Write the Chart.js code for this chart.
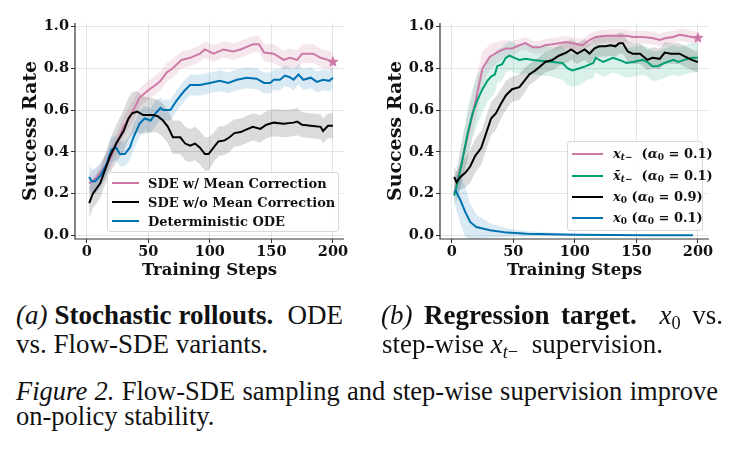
<!DOCTYPE html>
<html>
<head>
<meta charset="utf-8">
<script src="https://cdn.jsdelivr.net/npm/chart.js@4.4.1/dist/chart.umd.min.js"></script>
<style>
  body { margin: 0; width: 736px; height: 458px; background: #fff; position: relative; overflow: hidden; }
  canvas { position: absolute; top: 0; }
  .legend { position: absolute; box-sizing: border-box; background: rgba(255,255,255,0.85);
    border: 1px solid #d9d9d9; border-radius: 3px; font-family: "DejaVu Serif", serif; font-weight: bold; font-size: 13px; color: #111; }
  .legend .row { position: relative; white-space: nowrap; }
  .legend .hl { position: absolute; height: 2px; top: 50%; margin-top: -1px; }
  .legend .lt { position: absolute; top: 50%; transform: translateY(-50%); }
  .legend sub { font-size: 9px; vertical-align: -2px; }
  .cap { position: absolute; font-family: "Liberation Serif", "Times New Roman", serif; line-height: 1; color: #111;
    transform: scaleY(1.05); transform-origin: 0 0; }
  .just { text-align: justify; text-align-last: justify; }
  .cap sub { font-size: 0.68em; vertical-align: -0.25em; }
</style>
</head>
<body>
<canvas id="chartA" width="366" height="290" style="left:0"></canvas>
<canvas id="chartB" width="366" height="290" style="left:365px"></canvas>
<div class="legend" id="legA" style="left:107px;top:172px;width:232px;height:60px"></div>
<div class="legend" id="legB" style="left:567px;top:141px;width:136px;height:90px"></div>

<div class="cap just" style="left:16px;top:301px;width:327px;font-size:27px"><i>(a)</i> <b>Stochastic rollouts.</b>&nbsp; ODE</div>
<div class="cap" style="left:16px;top:330px;font-size:27px">vs. Flow-SDE variants.</div>
<div class="cap just" style="left:381px;top:301px;width:342px;font-size:27px"><i>(b)</i> <b>Regression target.</b>&nbsp; <i>x</i><sub>0</sub> vs.</div>
<div class="cap" style="left:382px;top:330px;font-size:27px">step-wise <i>x</i><sub><i>t</i>−</sub>&nbsp; supervision.</div>
<div class="cap just" style="left:16px;top:377px;width:702px;font-size:26.5px"><i>Figure 2.</i> Flow-SDE sampling and step-wise supervision improve</div>
<div class="cap" style="left:16px;top:402px;font-size:26.5px">on-policy stability.</div>

<script>
const xTicks = [0, 50, 100, 150, 200];
const yTicks = [0, 0.2, 0.4, 0.6, 0.8, 1.0];

// (a) stochastic rollouts
const aLabels = ["SDE w/ Mean Correction", "SDE w/o Mean Correction", "Deterministic ODE"];
const aColors = ["#cc79a7", "#000000", "#0072b2"];

const aPinkSteps = [2, 5, 10, 15, 20, 25, 30, 35, 38, 43, 51, 56, 60, 65, 70, 77, 84, 92, 96, 103, 111, 119, 125, 129, 135, 140, 144, 152, 160, 165, 171, 175, 184, 190, 196, 200];
const aPinkMean = [0.25, 0.26, 0.29, 0.33, 0.38, 0.45, 0.52, 0.57, 0.60, 0.66, 0.70, 0.72, 0.74, 0.78, 0.80, 0.84, 0.85, 0.87, 0.89, 0.87, 0.89, 0.88, 0.89, 0.90, 0.915, 0.915, 0.875, 0.87, 0.84, 0.85, 0.84, 0.87, 0.87, 0.85, 0.84, 0.83];
const aPinkSpread = [0.05, 0.05, 0.05, 0.05, 0.05, 0.05, 0.05, 0.05, 0.05, 0.045, 0.045, 0.045, 0.045, 0.045, 0.045, 0.04, 0.04, 0.04, 0.04, 0.04, 0.04, 0.04, 0.04, 0.04, 0.04, 0.04, 0.04, 0.045, 0.045, 0.045, 0.045, 0.045, 0.045, 0.045, 0.045, 0.045];

const aBlackSteps = [2, 5, 11, 14, 19, 24, 30, 34, 37, 41, 46, 54, 58, 62, 66, 70, 76, 80, 84, 88, 92, 96, 99, 103, 107, 112, 116, 120, 125, 129, 135, 141, 146, 152, 160, 168, 171, 175, 182, 190, 192, 196, 200];
const aBlackMean = [0.155, 0.20, 0.25, 0.30, 0.38, 0.44, 0.50, 0.56, 0.585, 0.593, 0.576, 0.576, 0.57, 0.55, 0.52, 0.47, 0.47, 0.44, 0.43, 0.44, 0.42, 0.39, 0.39, 0.42, 0.45, 0.455, 0.47, 0.49, 0.495, 0.505, 0.52, 0.51, 0.53, 0.54, 0.535, 0.54, 0.545, 0.53, 0.525, 0.52, 0.50, 0.525, 0.525];
const aBlackSpread = [0.07, 0.07, 0.07, 0.07, 0.08, 0.09, 0.1, 0.1, 0.1, 0.1, 0.09, 0.08, 0.08, 0.08, 0.08, 0.08, 0.08, 0.08, 0.08, 0.08, 0.08, 0.08, 0.08, 0.07, 0.07, 0.07, 0.07, 0.065, 0.065, 0.065, 0.065, 0.065, 0.065, 0.065, 0.065, 0.065, 0.065, 0.06, 0.06, 0.06, 0.06, 0.06, 0.06];

const aBlueSteps = [2, 4, 7, 11, 16, 20, 24, 27, 31, 35, 38, 43, 47, 52, 56, 60, 62, 68, 73, 79, 84, 92, 100, 108, 115, 122, 130, 138, 144, 149, 152, 157, 161, 165, 168, 172, 176, 182, 187, 192, 197, 200];
const aBlueMean = [0.28, 0.26, 0.26, 0.285, 0.34, 0.41, 0.42, 0.39, 0.39, 0.42, 0.47, 0.535, 0.56, 0.55, 0.585, 0.61, 0.60, 0.60, 0.645, 0.69, 0.72, 0.72, 0.73, 0.74, 0.73, 0.745, 0.755, 0.75, 0.73, 0.73, 0.745, 0.745, 0.765, 0.757, 0.745, 0.77, 0.745, 0.755, 0.735, 0.745, 0.74, 0.755];
const aBlueSpread = [0.06, 0.06, 0.06, 0.06, 0.06, 0.06, 0.06, 0.06, 0.06, 0.06, 0.06, 0.06, 0.06, 0.06, 0.06, 0.05, 0.05, 0.05, 0.05, 0.05, 0.05, 0.05, 0.05, 0.05, 0.05, 0.05, 0.05, 0.05, 0.05, 0.05, 0.05, 0.05, 0.05, 0.05, 0.05, 0.05, 0.05, 0.05, 0.05, 0.05, 0.05, 0.05];

// (b) regression target
const bLabels = ["<i>x</i><sub><i>t</i>−</sub>&nbsp; (<i>α</i><sub>0</sub> = 0.1)", "<i>x̄</i><sub><i>t</i>−</sub>&nbsp; (<i>α</i><sub>0</sub> = 0.1)", "<i>x</i><sub>0</sub> (<i>α</i><sub>0</sub> = 0.9)", "<i>x</i><sub>0</sub> (<i>α</i><sub>0</sub> = 0.1)"];
const bColors = ["#cc79a7", "#009e73", "#000000", "#0072b2"];

const bPinkSteps = [2, 5, 10, 15, 20, 25, 31, 38, 44, 49, 55, 60, 66, 71, 76, 82, 87, 93, 98, 106, 112, 117, 125, 133, 142, 147, 155, 163, 169, 174, 180, 185, 190, 195, 200];
const bPinkMean = [0.20, 0.27, 0.40, 0.53, 0.66, 0.80, 0.855, 0.88, 0.895, 0.895, 0.91, 0.92, 0.90, 0.90, 0.91, 0.915, 0.92, 0.925, 0.92, 0.91, 0.935, 0.95, 0.955, 0.955, 0.955, 0.95, 0.95, 0.945, 0.935, 0.945, 0.95, 0.96, 0.955, 0.95, 0.945];
const bPinkSpread = [0.06, 0.08, 0.1, 0.1, 0.1, 0.08, 0.06, 0.05, 0.04, 0.035, 0.03, 0.03, 0.03, 0.03, 0.03, 0.03, 0.03, 0.03, 0.03, 0.03, 0.03, 0.03, 0.03, 0.03, 0.03, 0.03, 0.03, 0.03, 0.03, 0.03, 0.03, 0.03, 0.03, 0.03, 0.03];

const bGreenSteps = [2, 5, 9, 13, 17, 21, 25, 29, 32, 35, 37, 41, 44, 47, 51, 55, 60, 66, 74, 82, 90, 94, 98, 104, 109, 115, 117, 123, 131, 136, 142, 147, 155, 159, 163, 167, 173, 180, 184, 189, 195, 200];
const bGreenMean = [0.19, 0.26, 0.37, 0.49, 0.585, 0.65, 0.70, 0.74, 0.76, 0.77, 0.81, 0.82, 0.85, 0.86, 0.85, 0.84, 0.845, 0.84, 0.835, 0.83, 0.825, 0.80, 0.79, 0.80, 0.81, 0.825, 0.85, 0.83, 0.85, 0.84, 0.825, 0.83, 0.84, 0.83, 0.81, 0.81, 0.825, 0.84, 0.83, 0.84, 0.85, 0.85];
const bGreenSpread = [0.06, 0.08, 0.1, 0.12, 0.12, 0.12, 0.11, 0.1, 0.1, 0.09, 0.08, 0.08, 0.07, 0.07, 0.07, 0.07, 0.07, 0.07, 0.07, 0.07, 0.08, 0.08, 0.08, 0.08, 0.07, 0.07, 0.07, 0.07, 0.07, 0.07, 0.07, 0.07, 0.07, 0.07, 0.07, 0.07, 0.07, 0.07, 0.07, 0.07, 0.07, 0.07];

const bBlackSteps = [2, 4, 7, 11, 15, 19, 24, 28, 32, 36, 40, 44, 49, 55, 59, 63, 68, 72, 76, 82, 87, 93, 97, 102, 108, 112, 116, 120, 125, 129, 133, 136, 139, 143, 147, 153, 159, 163, 169, 173, 178, 185, 190, 195, 200];
const bBlackMean = [0.28, 0.255, 0.28, 0.30, 0.33, 0.38, 0.42, 0.49, 0.56, 0.585, 0.63, 0.67, 0.70, 0.71, 0.74, 0.77, 0.79, 0.81, 0.83, 0.84, 0.86, 0.875, 0.89, 0.87, 0.89, 0.87, 0.895, 0.905, 0.905, 0.91, 0.905, 0.92, 0.92, 0.88, 0.87, 0.87, 0.84, 0.85, 0.845, 0.875, 0.87, 0.87, 0.855, 0.84, 0.83];
const bBlackSpread = [0.05, 0.05, 0.06, 0.07, 0.08, 0.08, 0.08, 0.08, 0.08, 0.08, 0.07, 0.07, 0.06, 0.06, 0.06, 0.05, 0.05, 0.05, 0.05, 0.05, 0.05, 0.05, 0.05, 0.05, 0.05, 0.05, 0.05, 0.05, 0.05, 0.05, 0.05, 0.05, 0.05, 0.05, 0.05, 0.05, 0.05, 0.05, 0.05, 0.05, 0.05, 0.05, 0.05, 0.05, 0.05];

const bBlueSteps = [3, 7, 11, 15, 20, 31, 45, 61, 80, 100, 130, 160, 196];
const bBlueMean = [0.217, 0.17, 0.113, 0.065, 0.041, 0.025, 0.014, 0.009, 0.006, 0.004, 0.003, 0.002, 0.002];
const bBlueSpread = [0.08, 0.11, 0.12, 0.09, 0.06, 0.035, 0.02, 0.012, 0.008, 0.005, 0.003, 0.002, 0.002];

function hexA(hex, a) {
  const n = parseInt(hex.slice(1), 16);
  return "rgba(" + (n >> 16) + "," + ((n >> 8) & 255) + "," + (n & 255) + "," + a + ")";
}

function makeStar(r, color) {
  const c = document.createElement("canvas");
  c.width = c.height = 2 * r + 2;
  const g = c.getContext("2d");
  g.beginPath();
  for (let i = 0; i < 10; i++) {
    const rr = i % 2 ? r * 0.45 : r;
    const ang = -Math.PI / 2 + i * Math.PI / 5;
    g.lineTo(r + 1 + rr * Math.cos(ang), r + 1 + rr * Math.sin(ang));
  }
  g.closePath();
  g.fillStyle = color;
  g.fill();
  return c;
}

// band (lower, upper) + mean line for one series
function series(steps, mean, spread, color, bandAlpha, star) {
  const lower = steps.map((s, i) => ({ x: s, y: mean[i] - spread[i] }));
  const upper = steps.map((s, i) => ({ x: s, y: mean[i] + spread[i] }));
  const line = steps.map((s, i) => ({ x: s, y: mean[i] }));
  const last = steps.length - 1;
  return [
    { data: lower, borderWidth: 0, borderColor: "transparent", pointRadius: 0, fill: false, order: 10 },
    { data: upper, borderWidth: 0, borderColor: "transparent", pointRadius: 0, fill: "-1", backgroundColor: hexA(color, bandAlpha), order: 10 },
    {
      data: line, borderColor: color, borderWidth: 2, fill: false, order: 1,
      pointRadius: star ? (c) => (c.dataIndex === last ? 6 : 0) : 0,
      pointStyle: star ? makeStar(6, color) : "circle",
    },
  ];
}

const tickFont = { family: "DejaVu Serif", weight: "bold", size: 14.5 };

function options() {
  return {
    responsive: false,
    animation: false,
    layout: { padding: { top: 23, right: 22, left: 0, bottom: 0 } },
    plugins: { legend: { display: false }, tooltip: { enabled: false } },
    scales: {
      x: {
        type: "linear", min: -9.5, max: 209,
        afterBuildTicks: (s) => { s.ticks = xTicks.map((v) => ({ value: v })); },
        afterFit: (s) => { s.height = 51; },
        ticks: { font: tickFont, color: "#111", padding: 1, callback: (v) => String(v) },
        grid: { color: "#e0e0e0", lineWidth: 0.8, borderDash: [3, 3], tickColor: "#333", tickLength: 4, tickBorderDash: [], tickWidth: 1 },
        border: { display: false },
        title: { display: true, text: "Training Steps", font: { family: "DejaVu Serif", weight: "bold", size: 16.5 }, color: "#111", padding: { top: 0, bottom: 9 } },
      },
      y: {
        min: -0.0165, max: 1.0165,
        afterBuildTicks: (s) => { s.ticks = yTicks.map((v) => ({ value: v })); },
        afterFit: (s) => { s.width = 75; },
        ticks: { font: tickFont, color: "#111", padding: 2, callback: (v) => v.toFixed(1) },
        grid: { color: "#e0e0e0", lineWidth: 0.8, borderDash: [3, 3], tickColor: "#333", tickLength: 4, tickBorderDash: [], tickWidth: 1 },
        border: { display: false },
        title: { display: true, text: "Success Rate", font: { family: "DejaVu Serif", weight: "bold", size: 19 }, color: "#111", padding: { top: 20, bottom: 0 } },
      },
    },
  };
}

// solid left and bottom spines
const spines = {
  id: "spines",
  afterDraw(chart) {
    const { ctx, chartArea: a } = chart;
    ctx.save();
    ctx.strokeStyle = "#333";
    ctx.lineWidth = 1.2;
    ctx.beginPath();
    ctx.moveTo(a.left, a.top);
    ctx.lineTo(a.left, a.bottom);
    ctx.lineTo(a.right, a.bottom);
    ctx.stroke();
    ctx.restore();
  },
};

new Chart(document.getElementById("chartA"), {
  type: "line",
  data: {
    datasets: [
      ...series(aBlackSteps, aBlackMean, aBlackSpread, aColors[1], 0.14, false),
      ...series(aBlueSteps, aBlueMean, aBlueSpread, aColors[2], 0.15, false),
      ...series(aPinkSteps, aPinkMean, aPinkSpread, aColors[0], 0.18, true),
    ],
  },
  options: options(),
  plugins: [spines],
});

new Chart(document.getElementById("chartB"), {
  type: "line",
  data: {
    datasets: [
      ...series(bBlueSteps, bBlueMean, bBlueSpread, bColors[3], 0.15, false),
      ...series(bBlackSteps, bBlackMean, bBlackSpread, bColors[2], 0.14, false),
      ...series(bGreenSteps, bGreenMean, bGreenSpread, bColors[1], 0.15, false),
      ...series(bPinkSteps, bPinkMean, bPinkSpread, bColors[0], 0.18, true),
    ],
  },
  options: options(),
  plugins: [spines],
});

function buildLegend(id, labels, colors, rowH, padTop, hlLeft, hlW, textLeft) {
  const box = document.getElementById(id);
  box.style.paddingTop = padTop + "px";
  labels.forEach((lab, i) => {
    const row = document.createElement("div");
    row.className = "row";
    row.style.height = rowH + "px";
    row.innerHTML = '<span class="hl" style="left:' + hlLeft + "px;width:" + hlW + "px;background:" + colors[i] + '"></span>' +
      '<span class="lt" style="left:' + textLeft + 'px">' + lab + "</span>";
    box.appendChild(row);
  });
}
buildLegend("legA", aLabels, aColors, 19, 0.5, 4, 27, 40);
buildLegend("legB", bLabels, bColors, 21.4, 1.5, 4, 31, 45);
</script>
</body>
</html>
